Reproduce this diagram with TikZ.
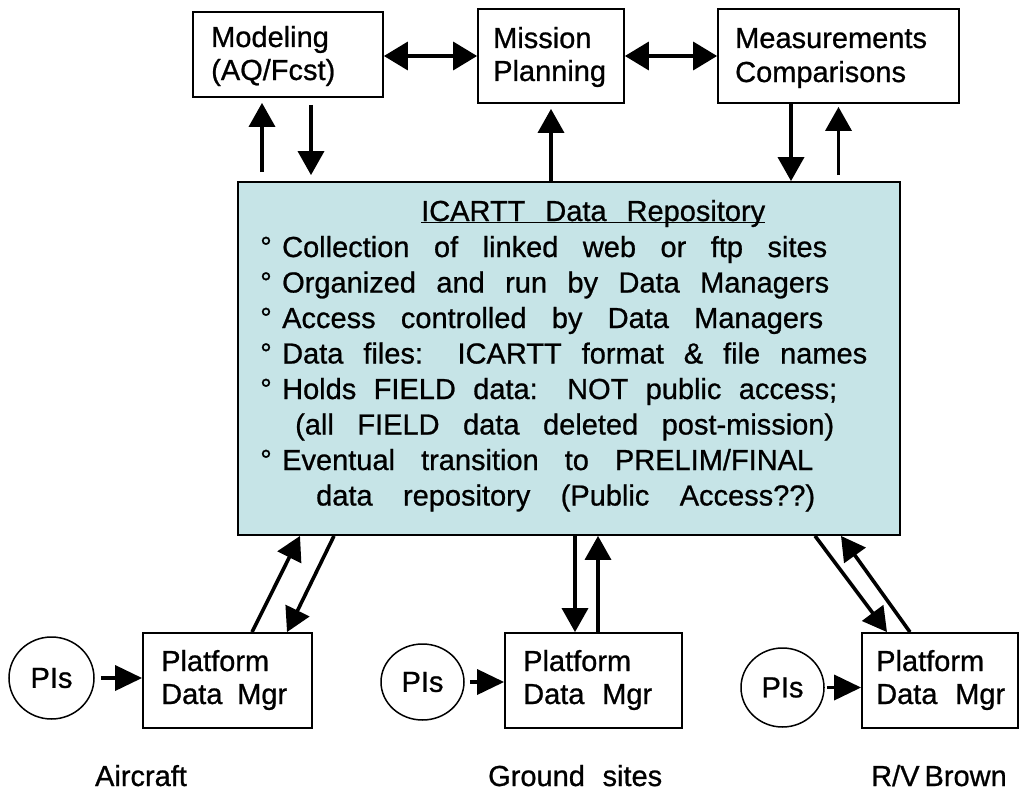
\documentclass[tikz,border=0pt]{standalone}
\usepackage{fontspec}
\setmainfont{Liberation Sans}[BoldFont={Liberation Sans}, BoldFeatures={FakeBold=0.8}]
\usetikzlibrary{arrows.meta,shapes.geometric}
\definecolor{repofill}{RGB}{198,228,231}
\newcommand\fsz{\fontsize{29}{35}\selectfont\bfseries}
\begin{document}
\begin{tikzpicture}[x=1pt,y=-1pt,
  bx/.style={draw, line width=1.8pt, inner sep=0, rectangle},
  txt/.style={inner sep=0, font=\fsz, anchor=base west},
  pisnode/.style={draw, ellipse, line width=1.5pt, inner sep=0, font=\fsz},
  arr/.style={line width=3.6pt, -{Triangle[length=24pt,width=26pt]}},
  dbl/.style={line width=3.6pt, {Triangle[length=24pt,width=28pt]}-{Triangle[length=24pt,width=28pt]}},
  pia/.style={line width=3.6pt, -{Triangle[length=27pt,width=25pt]}}]
\useasboundingbox (0,0) rectangle (1019,792);

% boxes
\node[bx, minimum width=190pt, minimum height=85pt] (model) at (288,54.5) {};
\node[bx, minimum width=146pt, minimum height=94pt] (mission) at (551,56) {};
\node[bx, minimum width=241pt, minimum height=94pt] (meas) at (838.5,56) {};
\node[bx, fill=repofill, minimum width=662pt, minimum height=353pt] (repo) at (569,358.5) {};
\node[bx, minimum width=169pt, minimum height=95pt] (plat1) at (227.5,680.5) {};
\node[bx, minimum width=177pt, minimum height=95pt] (plat2) at (593.5,680.5) {};
\node[bx, minimum width=156pt, minimum height=95pt] (plat3) at (940,680.5) {};

\node[pisnode, minimum width=85pt, minimum height=82pt] (pis1) at (51.5,678) {PIs};
\node[pisnode, minimum width=83pt, minimum height=76pt] (pis2) at (422.5,682) {PIs};
\node[pisnode, minimum width=83pt, minimum height=79pt] (pis3) at (782.5,687.5) {PIs};

% top box texts
\node[txt] (t1a) at (211,47) {Modeling};
\node[txt] (t1b) at (211,80) {(AQ/Fcst)};
\node[txt] (t2a) at (493,48) {Mission};
\node[txt] (t2b) at (493,81) {Planning};
\node[txt] (t3a) at (735,48) {Measurements};
\node[txt] (t3b) at (735,82) {Comparisons};

% repository text
\node[txt] (title) at (421,221) {\makebox[344pt][s]{ICARTT Data Repository}};
\draw[line width=1.4pt] ([yshift=-1.5pt]title.base west) -- ([yshift=-1.5pt]title.base east);
\node[txt] (l1) at (260,257) {\makebox[22pt][l]{°}\makebox[545pt][s]{Collection of linked web or ftp sites}};
\node[txt] (l2) at (260,292.5) {\makebox[22pt][l]{°}\makebox[547pt][s]{Organized and run by Data Managers}};
\node[txt] (l3) at (260,328) {\makebox[22pt][l]{°}\makebox[541pt][s]{Access controlled by Data Managers}};
\node[txt] (l4) at (260,363.5) {\makebox[22pt][l]{°}\makebox[585pt][s]{Data files: ICARTT format \& file names}};
\node[txt] (l5) at (260,399) {\makebox[22pt][l]{°}\makebox[555pt][s]{Holds FIELD data: NOT public access;}};
\node[txt] (l6) at (295,434.5) {\makebox[539pt][s]{(all FIELD data deleted post-mission)}};
\node[txt] (l7) at (260,470) {\makebox[22pt][l]{°}\makebox[531pt][s]{Eventual transition to PRELIM/FINAL}};
\node[txt] (l8) at (316,505.5) {\makebox[499pt][s]{data repository (Public Access??)}};

% platform texts
\node[txt] (p1a) at (161,671) {Platform};
\node[txt] (p1b) at (161,704) {\makebox[126pt][s]{Data Mgr}};
\node[txt] (p2a) at (523,671) {Platform};
\node[txt] (p2b) at (523,704) {\makebox[129pt][s]{Data Mgr}};
\node[txt] (p3a) at (876,671) {Platform};
\node[txt] (p3b) at (876,704) {\makebox[129pt][s]{Data Mgr}};

% bottom labels
\node[txt, anchor=base] (lab1) at (141,786) {Aircraft};
\node[txt] (lab2) at (488,786) {\makebox[174pt][s]{Ground sites}};
\node[txt] (lab3) at (871,786) {R/V\hspace{5pt}Brown};

% top connectors
\draw[dbl] (model.east |- mission.west) -- (mission.west);
\draw[dbl] (mission.east) -- (meas.west);
\coordinate (mu) at ([xshift=-26pt]model.south);
\coordinate (md) at ([xshift=23pt]model.south);
\draw[arr, shorten <=9pt, shorten >=5pt] (mu |- repo.north) -- (mu);
\draw[arr, shorten <=7pt, shorten >=6pt] (md) -- (md |- repo.north);
\draw[arr, shorten >=5pt] (mission.south |- repo.north) -- (mission.south);
\coordinate (msd) at ([xshift=-47.5pt]meas.south);
\draw[arr] (msd) -- (msd |- repo.north);
\draw[arr, shorten <=6pt, shorten >=3pt] (meas.south |- repo.north) -- (meas.south);

% bottom connectors
\coordinate (a1) at ([xshift=24.5pt]plat1.north);
\coordinate (a2) at ([xshift=-269pt]repo.south);
\coordinate (a3) at ([xshift=-235pt]repo.south);
\coordinate (a4) at ([xshift=59.5pt]plat1.north);
\draw[arr] (a1) -- (a2);
\draw[arr] (a3) -- (a4);
\coordinate (b1) at ([xshift=6pt]repo.south);
\coordinate (b2) at ([xshift=4.5pt]plat2.north);
\draw[arr] (b1) -- (b1 |- plat2.north);
\draw[arr] (b2) -- (b2 |- repo.south);
\coordinate (c1) at ([xshift=246pt]repo.south);
\coordinate (c2) at ([xshift=-53pt]plat3.north);
\coordinate (c3) at ([xshift=-30pt]plat3.north);
\coordinate (c4) at ([xshift=272pt]repo.south);
\draw[arr] (c1) -- (c2);
\draw[arr] (c3) -- (c4);

% PIs connectors
\draw[pia, shorten <=6pt] (pis1.east) -- (pis1.east -| plat1.west);
\draw[pia, shorten <=5pt] (pis2.east) -- (pis2.east -| plat2.west);
\draw[pia, shorten <=2pt] (pis3.east) -- (pis3.east -| plat3.west);
\end{tikzpicture}
\end{document}
